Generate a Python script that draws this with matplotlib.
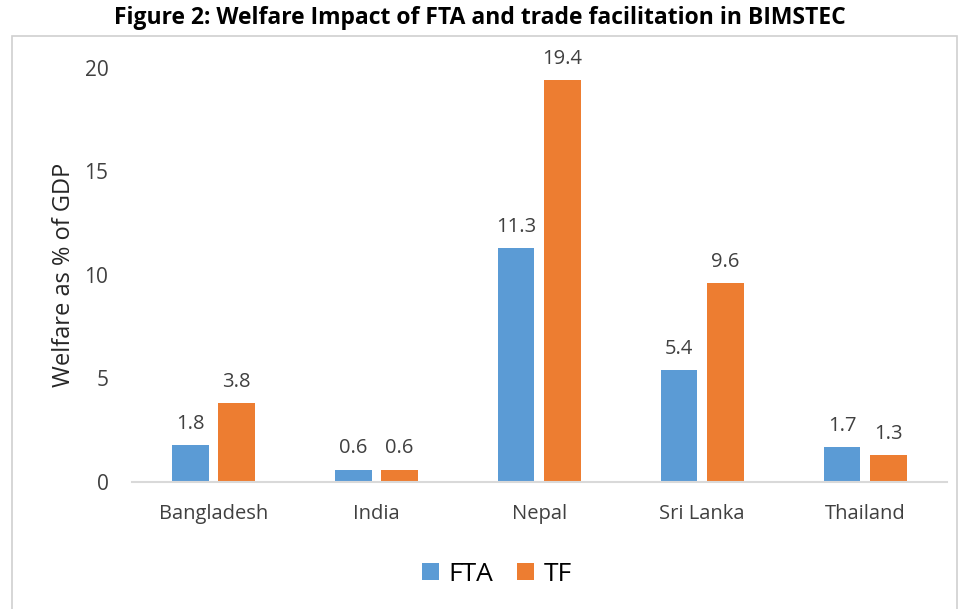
import matplotlib
matplotlib.use("Agg")
from matplotlib import pyplot as plt
from matplotlib.patches import Rectangle
import numpy as np

countries = ["Bangladesh", "India", "Nepal", "Sri Lanka", "Thailand"]
fta = [1.8, 0.6, 11.3, 5.4, 1.7]
tf = [3.8, 0.6, 19.4, 9.6, 1.3]
fta_labels = ["1.8", "0.6", "11.3", "5.4", "1.7"]
tf_labels = ["3.8", "0.6", "19.4", "9.6", "1.3"]

plt.rcParams['font.family'] = ['Open Sans', 'DejaVu Sans']

blue = '#5B9BD5'
orange = '#ED7D31'

fig = plt.figure(figsize=(9.6, 6.09), dpi=100)
ax = fig.add_axes([0.1375, 0.2085, 0.8485, 0.68])

x = np.arange(len(countries))
w = 0.225
off = 0.142
b1 = ax.bar(x - off, fta, width=w, color=blue, label='FTA')
b2 = ax.bar(x + off, tf, width=w, color=orange, label='TF')

for bars, labs in ((b1, fta_labels), (b2, tf_labels)):
    for r, lab in zip(bars, labs):
        ax.annotate(lab, (r.get_x() + r.get_width() / 2, r.get_height()),
                    xytext=(0, 8), textcoords='offset points',
                    ha='center', va='bottom', fontsize=14.5, color='#404040')

ax.set_xlim(-0.5, 4.5)
ax.set_ylim(0, 20)
ax.set_yticks([0, 5, 10, 15, 20])
ax.set_xticks(x)
ax.set_xticklabels(countries)
ax.tick_params(axis='both', length=0, colors='#404040')
ax.tick_params(axis='y', pad=17, labelsize=15)
ax.tick_params(axis='x', pad=16, labelsize=14.5)
for s in ['top', 'right', 'left']:
    ax.spines[s].set_visible(False)
ax.spines['bottom'].set_color('#D9D9D9')
ax.spines['bottom'].set_linewidth(1.5)
ax.set_ylabel('Welfare as % of GDP', fontsize=17, color='#262626', labelpad=6)

ax.legend(loc='lower center', bbox_to_anchor=(0.448, -0.31), ncol=2, frameon=False,
          fontsize=19, handlelength=0.65, handleheight=0.65, handletextpad=0.35,
          columnspacing=0.9)

fig.patches.append(Rectangle((12 / 960, -0.05), (957 - 12) / 960, 1 - 36 / 609 + 0.05,
                             transform=fig.transFigure, fill=False,
                             edgecolor='#D0D0D0', linewidth=1.2))

fig.text(0.5, 1 - 18 / 609, 'Figure 2: Welfare Impact of FTA and trade facilitation in BIMSTEC',
         ha='center', va='center', fontsize=16.5, fontweight='bold', color='black')

plt.savefig('out.png', dpi=100)
